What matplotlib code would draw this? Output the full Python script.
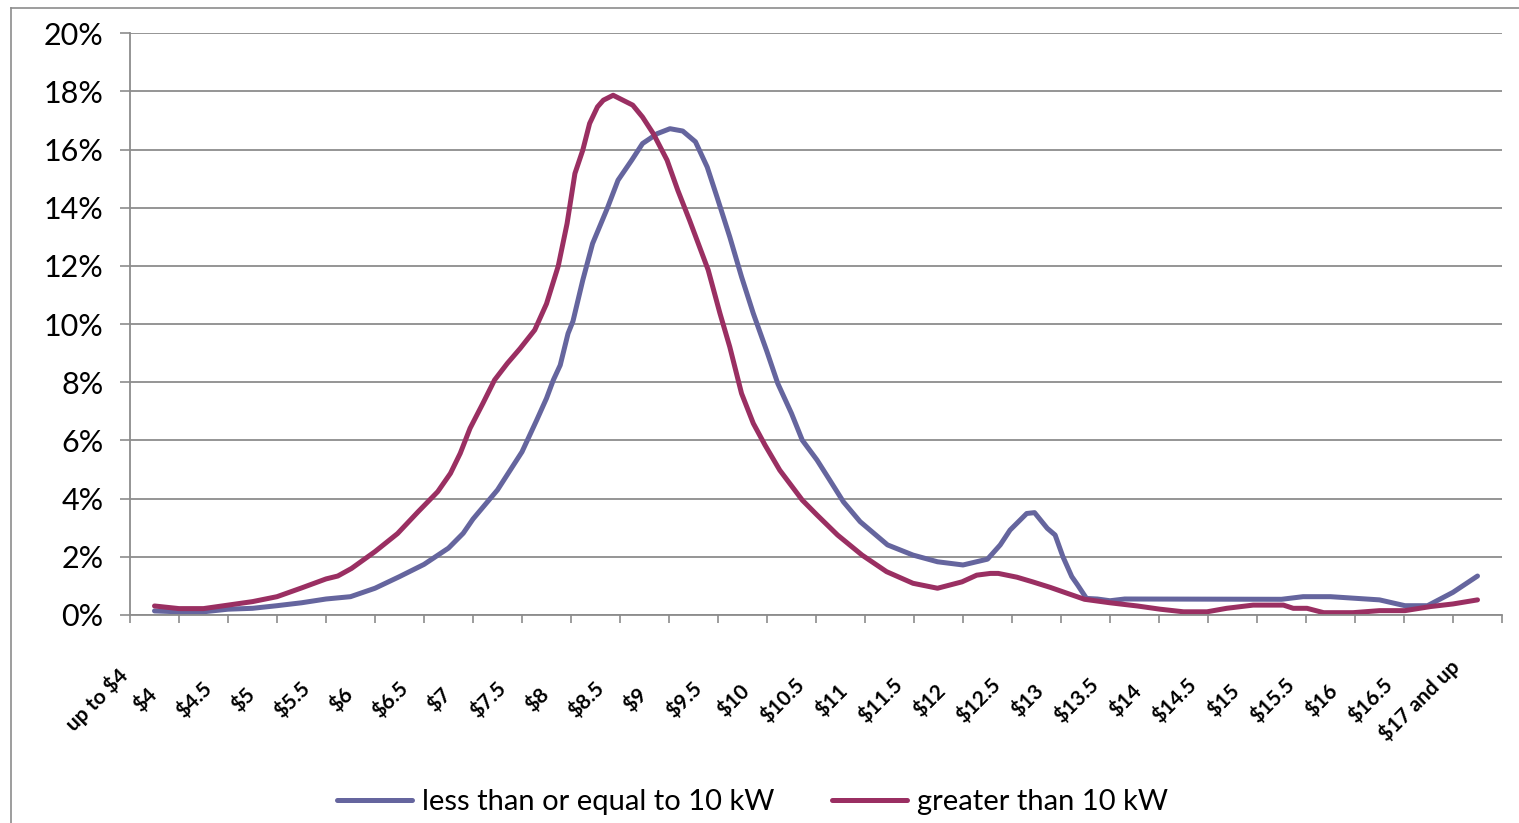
import matplotlib
matplotlib.use("Agg")
import matplotlib.pyplot as plt
from matplotlib.lines import Line2D

# ---------------- data ----------------
categories = ["up to $4", "$4", "$4.5", "$5", "$5.5", "$6", "$6.5", "$7", "$7.5", "$8",
              "$8.5", "$9", "$9.5", "$10", "$10.5", "$11", "$11.5", "$12", "$12.5", "$13",
              "$13.5", "$14", "$14.5", "$15", "$15.5", "$16", "$16.5", "$17 and up"]
cat_pos = [3.5 + 0.5 * k for k in range(len(categories))]

small_x = [3.5, 3.75, 4.0, 4.25, 4.5, 4.75, 5.0, 5.25, 5.5, 5.75, 6.0, 6.25, 6.5, 6.65, 6.75,
           7.0, 7.25, 7.4, 7.5, 7.57, 7.64, 7.72, 7.77, 7.87, 7.97, 8.12, 8.23, 8.37, 8.48,
           8.63, 8.76, 8.89, 9.02, 9.14, 9.24, 9.37, 9.49, 9.61, 9.75, 9.86, 10.0, 10.11,
           10.26, 10.39, 10.53, 10.7, 10.98, 11.24, 11.49, 11.75, 12.0, 12.13, 12.23, 12.4,
           12.48, 12.61, 12.69, 12.77, 12.86, 12.92, 13.01, 13.12, 13.25, 13.4, 15.0, 15.22,
           15.5, 16.0, 16.26, 16.49, 16.75, 17.0]
small_y = [0.14, 0.11, 0.11, 0.2, 0.23, 0.32, 0.42, 0.55, 0.63, 0.92, 1.32, 1.74, 2.3, 2.81, 3.3,
           4.3, 5.61, 6.7, 7.45, 8.08, 8.59, 9.68, 10.1, 11.51, 12.77, 13.98, 14.95, 15.64, 16.21,
           16.55, 16.72, 16.64, 16.27, 15.4, 14.37, 13.0, 11.63, 10.37, 9.05, 7.96, 6.93, 6.01,
           5.33, 4.64, 3.89, 3.21, 2.41, 2.06, 1.83, 1.72, 1.92, 2.41, 2.92, 3.49,
           3.52, 2.98, 2.75, 2.0, 1.32, 1.03, 0.57, 0.55, 0.49, 0.55, 0.54, 0.63,
           0.63, 0.52, 0.32, 0.32, 0.78, 1.34]

large_x = [3.5, 3.75, 4.0, 4.25, 4.5, 4.75, 5.0, 5.25, 5.37, 5.51, 5.75, 5.98, 6.19, 6.39, 6.52,
           6.62, 6.72, 6.85, 6.97, 7.1, 7.23, 7.38, 7.5, 7.62, 7.71, 7.79, 7.87, 7.94, 8.02,
           8.08, 8.18, 8.28, 8.38, 8.48, 8.59, 8.73, 8.84, 8.96, 9.1, 9.15, 9.27, 9.37, 9.49,
           9.61, 9.73, 9.88, 10.11, 10.26, 10.47, 10.72, 10.97, 11.24, 11.49, 11.74, 11.89,
           12.03, 12.11, 12.3, 12.46, 12.64, 12.81, 12.99, 13.25, 13.53, 13.76, 14.0, 14.24,
           14.44, 14.71, 15.02, 15.12, 15.26, 15.43, 15.73, 16.0, 16.26, 16.52, 16.75, 17.0]
large_y = [0.31, 0.22, 0.22, 0.34, 0.46, 0.63, 0.93, 1.24, 1.34, 1.6, 2.18, 2.8, 3.55, 4.24, 4.87,
           5.56, 6.42, 7.27, 8.08, 8.65, 9.16, 9.8, 10.7, 12.0, 13.46, 15.18, 15.98, 16.9, 17.47,
           17.7, 17.87, 17.7, 17.53, 17.12, 16.55, 15.64, 14.6, 13.57, 12.31, 11.86, 10.37, 9.22, 7.62,
           6.59, 5.84, 4.98, 3.95, 3.44, 2.75, 2.06, 1.49, 1.09, 0.92, 1.14, 1.37,
           1.43, 1.43, 1.3, 1.14, 0.95, 0.75, 0.54, 0.42, 0.31, 0.2, 0.11, 0.11,
           0.23, 0.34, 0.34, 0.23, 0.23, 0.08, 0.08, 0.15, 0.15, 0.29, 0.38, 0.52]

series_names = ["less than or equal to 10 kW", "greater than 10 kW"]
y_ticks = [0, 2, 4, 6, 8, 10, 12, 14, 16, 18, 20]

# ---------------- figure ----------------
W, H = 1519, 823
fig = plt.figure(figsize=(W / 100, H / 100), dpi=100)
ax = fig.add_axes([130 / W, (H - 615) / H, (1502 - 130) / W, (615 - 33.3) / H])

blue = "#65659E"
red = "#9A2F62"
grid_c = "#8C8C8C"

l1, = ax.plot(small_x, small_y, color=blue, lw=3.6, solid_joinstyle="round", solid_capstyle="round")
l2, = ax.plot(large_x, large_y, color=red, lw=3.6, solid_joinstyle="round", solid_capstyle="round")

ax.set_xlim(3.25, 17.25)
ax.set_ylim(0, 20)
ax.set_yticks(y_ticks)
ax.set_yticklabels([f"{v}%" for v in y_ticks], fontfamily="Lato", fontsize=22)
ax.grid(axis="y", color=grid_c, lw=1.3)
ax.set_axisbelow(True)

bounds = [3.25 + 0.5 * m for m in range(len(categories) + 1)]
ax.set_xticks(bounds)
ax.set_xticklabels([])
ax.tick_params(axis="x", direction="out", length=6, color=grid_c, width=1.2)
ax.tick_params(axis="y", direction="out", length=7.2, color=grid_c, width=1.2, pad=12)

for s in ["top", "right"]:
    ax.spines[s].set_visible(False)
for s in ["left", "bottom"]:
    ax.spines[s].set_color(grid_c)
    ax.spines[s].set_linewidth(1.3)

for pos, lab in zip(cat_pos, categories):
    ax.annotate(lab, xy=(pos, 0), xycoords=("data", "axes fraction"),
                xytext=(-58 * 0.72, -85 * 0.72), textcoords="offset points",
                rotation=45, ha="center", va="center", fontsize=15, fontweight="bold",
                fontfamily="Lato", color="black")

fig.legend([l1, l2], series_names, loc="center", bbox_to_anchor=(752.5 / W, 21 / H),
           ncol=2, frameon=False, prop={"family": "Lato", "size": 21},
           handlelength=2.57, handletextpad=0.34, columnspacing=2.0)

# outer chart border (left and top visible)
fig.add_artist(Line2D([11 / W, 11 / W], [0, 1 - 8 / H], color=grid_c, lw=1.2, transform=fig.transFigure))
fig.add_artist(Line2D([11 / W, 1], [1 - 8 / H, 1 - 8 / H], color=grid_c, lw=1.2, transform=fig.transFigure))

fig.savefig("out.png", dpi=100)
